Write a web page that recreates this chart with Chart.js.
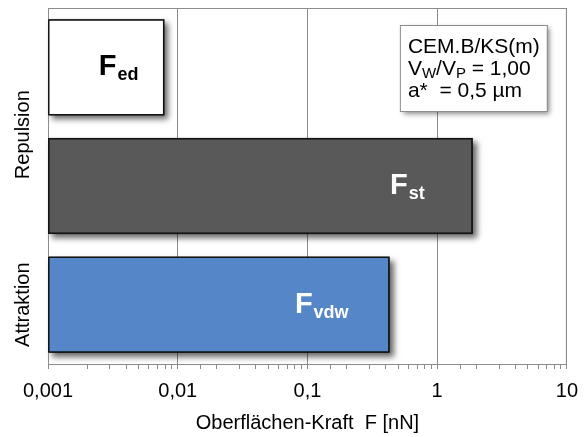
<!DOCTYPE html>
<html>
<head>
<meta charset="utf-8">
<script src="https://cdn.jsdelivr.net/npm/chart.js@4/dist/chart.umd.min.js"></script>
<style>
  body { margin: 0; background: #fff; }
</style>
</head>
<body>
<canvas id="forceChart" width="588" height="437"></canvas>
<script>
// Oberflächenkräfte CEM.B/KS(m) – log bar chart

const forces = ['Fed', 'Fst', 'Fvdw'];
const forceSubs = ['ed', 'st', 'vdw'];
const forceValues = [0.0079, 1.88, 0.43]; // nN

const groupNames = ['Repulsion', 'Attraktion'];
const groupStart = [0, 2];
const groupEnd = [1, 2];

const majorTicks = [0.001, 0.01, 0.1, 1, 10];
const majorTickLabels = ['0,001', '0,01', '0,1', '1', '10'];

const infoLines = ['CEM.B/KS(m)', 'VW/VP = 1,00', 'a*  = 0,5 µm'];

// styling
const FONT = '"Liberation Sans", Arial, sans-serif';
const barFill = ['#ffffff', '#595959', '#5586c7'];
const textFill = ['#000000', '#ffffff', '#ffffff'];
const textGap = [26, 48, 41];   // distance of label end from bar end
const groupShift = [8, 0];
const gridGray = '#8c8c8c';

function isMajor(v) {
  const l = Math.log10(v);
  return Math.abs(l - Math.round(l)) < 1e-6;
}

// shadows under the bars
const barShadow = {
  id: 'barShadow',
  beforeDatasetsDraw(chart) {
    const ctx = chart.ctx;
    chart.getDatasetMeta(0).data.forEach((el) => {
      const p = el.getProps(['x', 'y', 'base', 'height'], true);
      ctx.save();
      ctx.shadowColor = 'rgba(0,0,0,0.6)';
      ctx.shadowBlur = 6;
      ctx.shadowOffsetX = 4;
      ctx.shadowOffsetY = 4;
      ctx.fillStyle = '#000';
      ctx.fillRect(Math.min(p.base, p.x), p.y - p.height / 2, Math.abs(p.x - p.base), p.height);
      ctx.restore();
    });
  }
};

// frame, bar labels, group labels, info box
const decorations = {
  id: 'decorations',
  beforeDatasetsDraw(chart) {
    const { ctx, chartArea: a } = chart;
    ctx.save();
    ctx.strokeStyle = gridGray;
    ctx.lineWidth = 1;
    ctx.strokeRect(a.left + 0.5, a.top + 0.5, a.right - a.left - 1, a.bottom - a.top);
    ctx.restore();
  },
  afterDatasetsDraw(chart) {
    const { ctx, chartArea: a, scales } = chart;
    ctx.save();
    ctx.textBaseline = 'alphabetic';

    // F labels inside bars
    chart.getDatasetMeta(0).data.forEach((el, i) => {
      const p = el.getProps(['x', 'y'], true);
      ctx.font = 'bold 18px ' + FONT;
      const subW = ctx.measureText(forceSubs[i]).width;
      ctx.font = 'bold 29px ' + FONT;
      const fW = ctx.measureText('F').width;
      const right = p.x - textGap[i];
      const left = right - subW - fW - 1;
      ctx.fillStyle = textFill[i];
      ctx.fillText('F', left, p.y + 8);
      ctx.font = 'bold 18px ' + FONT;
      ctx.fillText(forceSubs[i], left + fW + 1, p.y + 13);
    });

    // group labels on the left
    ctx.font = '20px ' + FONT;
    ctx.fillStyle = '#000';
    ctx.textAlign = 'center';
    ctx.textBaseline = 'middle';
    groupNames.forEach((g, i) => {
      const yc = (scales.y.getPixelForValue(groupStart[i]) + scales.y.getPixelForValue(groupEnd[i])) / 2 + groupShift[i];
      ctx.save();
      ctx.translate(23, yc);
      ctx.rotate(-Math.PI / 2);
      ctx.fillText(g, 0, 0);
      ctx.restore();
    });

    // info box
    const bx = a.right - 167, by = a.top + 17, bw = 147, bh = 86;
    ctx.save();
    ctx.shadowColor = 'rgba(0,0,0,0.45)';
    ctx.shadowBlur = 5;
    ctx.shadowOffsetX = 3;
    ctx.shadowOffsetY = 3;
    ctx.fillStyle = '#fff';
    ctx.fillRect(bx, by, bw, bh);
    ctx.restore();
    ctx.strokeStyle = gridGray;
    ctx.lineWidth = 1;
    ctx.strokeRect(bx + 0.5, by + 0.5, bw, bh);

    ctx.textAlign = 'left';
    ctx.textBaseline = 'alphabetic';
    ctx.fillStyle = '#000';
    const tx = bx + 8;
    ctx.font = '21px ' + FONT;
    ctx.fillText(infoLines[0], tx, by + 28);
    // second line with subscripts
    let x = tx;
    const y2 = by + 50;
    const parts = [['V', 0], ['W', 1], ['/V', 0], ['P', 1], [' = 1,00', 0]];
    parts.forEach(([t, sub]) => {
      ctx.font = (sub ? '15px ' : '21px ') + FONT;
      ctx.fillText(t, x, y2 + (sub ? 3 : 0));
      x += ctx.measureText(t).width;
    });
    ctx.font = '21px ' + FONT;
    ctx.fillText(infoLines[2], tx, by + 72);
    ctx.restore();
  }
};

const ctx = document.getElementById('forceChart').getContext('2d');

new Chart(ctx, {
  type: 'bar',
  data: {
    labels: forces,
    datasets: [
      {
        data: forceValues,
        backgroundColor: barFill,
        borderColor: '#141414',
        borderWidth: 1.5,
        borderSkipped: false,
        barPercentage: 0.81,
        categoryPercentage: 1
      }
    ]
  },
  options: {
    indexAxis: 'y',
    responsive: false,
    animation: false,
    layout: { padding: { left: 48, right: 18, top: 8, bottom: 2 } },
    plugins: {
      legend: { display: false },
      tooltip: { enabled: false }
    },
    scales: {
      y: {
        display: false
      },
      x: {
        type: 'logarithmic',
        min: 0.001,
        max: 10,
        afterFit: (scale) => { scale.height = 71; },
        border: { color: gridGray, width: 1 },
        grid: {
          color: (c) => (c.tick && isMajor(c.tick.value) ? gridGray : 'rgba(0,0,0,0)'),
          tickColor: gridGray,
          tickLength: 5
        },
        ticks: {
          autoSkip: false,
          maxRotation: 0,
          padding: 10,
          color: '#000',
          font: { family: FONT, size: 20 },
          callback: (v) => {
            const k = majorTicks.findIndex((m) => Math.abs(m - v) / m < 1e-6);
            return k >= 0 ? majorTickLabels[k] : '';
          }
        },
        title: {
          display: true,
          text: 'Oberflächen-Kraft  F [nN]',
          color: '#000',
          font: { family: FONT, size: 20 },
          padding: { top: 5, bottom: 0 }
        }
      }
    }
  },
  plugins: [barShadow, decorations]
});
</script>
</body>
</html>
